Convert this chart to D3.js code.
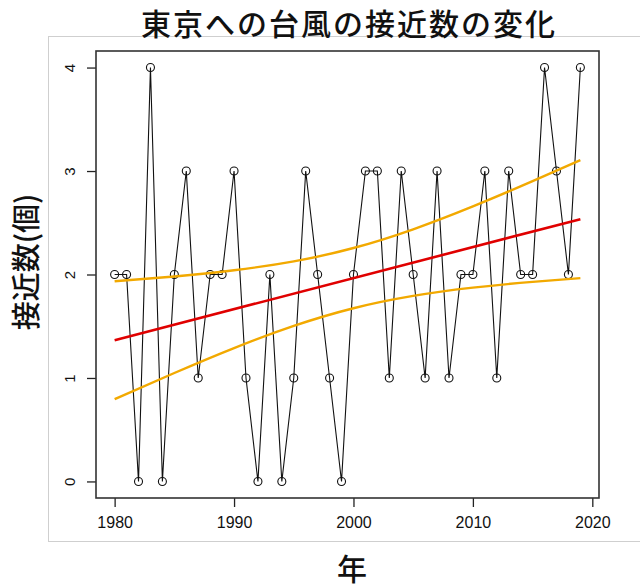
<!DOCTYPE html>
<html>
<head>
<meta charset="utf-8">
<script src="https://cdn.jsdelivr.net/npm/d3@7"></script>
<style>
  html, body { margin: 0; padding: 0; background: #fff; }
  svg { display: block; }
</style>
</head>
<body>
<svg id="chart" width="640" height="588"></svg>
<script>
// ---- data ----
const years = d3.range(1980, 2020);
const counts = [2,2,0,4,0,2,3,1,2,2,
                3,1,0,2,0,1,3,2,1,0,
                2,3,3,1,3,2,1,3,1,2,
                2,3,1,3,2,2,4,3,2,4];
// trend line (linear fit) read at end years
const fitYears = [1980, 2019];
const fitValues = [1.365, 2.535];
// confidence band
const bandYears = [1980, 1985, 1990, 1995, 2000, 2005, 2010, 2015, 2019];
const bandUpper = [1.935, 1.981, 2.041, 2.127, 2.256, 2.437, 2.658, 2.902, 3.106];
const bandLower = [0.795, 1.048, 1.289, 1.503, 1.674, 1.793, 1.873, 1.929, 1.965];
const xTicks = [1980, 1990, 2000, 2010, 2020];
const yTicks = [0, 1, 2, 3, 4];
const title = "東京への台風の接近数の変化";
const xLabel = "年";
const yLabel = "接近数(個)";

// ---- drawing ----
const svg = d3.select("#chart");
const box = {left: 96, right: 599, top: 51, bottom: 498};

const x = d3.scaleLinear().domain([1978.44, 2020.56]).range([box.left, box.right]);
const y = d3.scaleLinear().domain([-0.16, 4.16]).range([box.bottom, box.top]);

// faint outer frame
svg.append("rect")
  .attr("x", 48.5).attr("y", 36.5).attr("width", 600).attr("height", 505)
  .attr("fill", "none").attr("stroke", "#cfcfcf").attr("stroke-width", 1);

// title
svg.append("text")
  .attr("x", 349).attr("y", 35)
  .attr("text-anchor", "middle")
  .attr("font-family", "'Noto Sans CJK JP', sans-serif")
  .attr("font-size", 30).attr("font-weight", 500)
  .attr("letter-spacing", 2)
  .attr("fill", "#111")
  .text(title);

// axes
const xAxis = d3.axisBottom(x).tickValues(xTicks).tickSize(9).tickPadding(10).tickFormat(d3.format("d"));
const gx = svg.append("g").attr("transform", `translate(0,${box.bottom})`).call(xAxis);
gx.select(".domain").remove();
gx.selectAll("line").attr("stroke", "#222").attr("stroke-width", 1.3);
gx.selectAll("text")
  .attr("font-family", "'Liberation Sans', Arial, sans-serif")
  .attr("font-size", 16).attr("fill", "#111");

const yAxis = d3.axisLeft(y).tickValues(yTicks).tickSize(9).tickPadding(0).tickFormat(d3.format("d"));
const gy = svg.append("g").attr("transform", `translate(${box.left},0)`).call(yAxis);
gy.select(".domain").remove();
gy.selectAll("line").attr("stroke", "#222").attr("stroke-width", 1.3);
gy.selectAll("text")
  .attr("font-family", "'Liberation Sans', Arial, sans-serif")
  .attr("font-size", 15).attr("fill", "#111")
  .attr("text-anchor", "middle")
  .attr("dy", null)
  .attr("x", null)
  .attr("transform", "translate(-27,0) rotate(-90)")
  .attr("dominant-baseline", "central");

// plot box
svg.append("rect")
  .attr("x", box.left).attr("y", box.top)
  .attr("width", box.right - box.left).attr("height", box.bottom - box.top)
  .attr("fill", "none").attr("stroke", "#333").attr("stroke-width", 1.6);

// axis titles
svg.append("text")
  .attr("x", 352).attr("y", 580)
  .attr("text-anchor", "middle")
  .attr("font-family", "'Noto Sans CJK JP', sans-serif")
  .attr("font-size", 30).attr("font-weight", 500)
  .attr("fill", "#111")
  .text(xLabel);

svg.append("text")
  .attr("transform", "translate(37,262) rotate(-90)")
  .attr("text-anchor", "middle")
  .attr("font-family", "'Noto Sans CJK JP', sans-serif")
  .attr("font-size", 29).attr("font-weight", 500)
  .attr("fill", "#111")
  .text(yLabel);

// data line + points
const pts = years.map((yr, i) => ({yr, v: counts[i]}));
svg.append("path")
  .datum(pts)
  .attr("fill", "none").attr("stroke", "#111").attr("stroke-width", 1.1)
  .attr("d", d3.line().x(d => x(d.yr)).y(d => y(d.v)));

svg.append("g").selectAll("circle")
  .data(pts).join("circle")
  .attr("cx", d => x(d.yr)).attr("cy", d => y(d.v)).attr("r", 4)
  .attr("fill", "none").attr("stroke", "#111").attr("stroke-width", 1.1);

// confidence band lines
const bandLine = d3.line().curve(d3.curveNatural).x(d => x(d[0])).y(d => y(d[1]));
[bandUpper, bandLower].forEach(arr => {
  svg.append("path")
    .datum(bandYears.map((yr, i) => [yr, arr[i]]))
    .attr("fill", "none").attr("stroke", "#f2a900").attr("stroke-width", 2.4)
    .attr("d", bandLine);
});

// trend line
svg.append("path")
  .datum(fitYears.map((yr, i) => [yr, fitValues[i]]))
  .attr("fill", "none").attr("stroke", "#e00000").attr("stroke-width", 2.6)
  .attr("d", d3.line().x(d => x(d[0])).y(d => y(d[1])));
</script>
</body>
</html>
